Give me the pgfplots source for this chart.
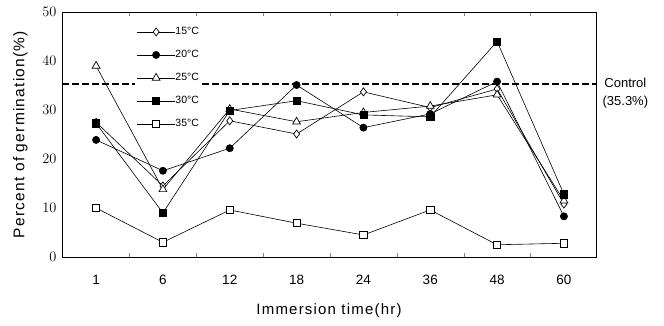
\documentclass[border=0pt]{standalone}
\usepackage{pgfplots}
\pgfplotsset{compat=1.18}
\usepackage{fontspec}
\setmainfont{Liberation Sans}
\newfontfamily\lblfont[LetterSpace=8]{Liberation Sans}
\begin{document}
\begin{tikzpicture}
\begin{axis}[
  scale only axis, width=534pt, height=245pt,
  xmin=-0.51, xmax=7.48, ymin=0, ymax=50,
  xtick={0,...,7},
  xticklabels={1,6,12,18,24,36,48,60},
  major x tick style={draw=none},
  minor xtick={0.5,1.5,...,6.5},
  minor tick length=4pt,
  tick align=inside,
  ytick={0,10,...,50},
  y tick style={draw=none},
  tick label style={font=\fontsize{13.5}{15}\selectfont},
  x tick label style={yshift=-15pt},
  y tick label style={xshift=-2pt},
  xlabel={\lblfont\fontsize{15}{17}\selectfont Immersion time(hr)},
  ylabel={\lblfont\fontsize{15.5}{17}\selectfont Percent of germination(\%)},
  xlabel style={yshift=-12pt},
  ylabel style={yshift=8pt},
  axis line style={line width=0.7pt},
  clip=false,
  legend cell align=left,
  legend style={at={(rel axis cs:0.136,0.948)}, anchor=north west, draw=none, fill=white,
    inner sep=2pt, row sep=13pt,
    nodes={inner sep=0pt, text height=8pt, text depth=2pt, font=\fontsize{10.5}{12}\selectfont}},
  /tikz/every even column/.append style={column sep=4pt},
  /tikz/every odd column/.append style={text width=32pt},
  legend image code/.code={\draw[mark repeat=2,mark phase=2] plot coordinates {(0pt,0pt)(19pt,0pt)(38pt,0pt)};},
  every axis plot/.append style={line width=0.6pt},
]
\addplot[black, dash pattern=on 7pt off 3pt, line width=1.3pt, forget plot] coordinates {(-0.51,35.3) (7.48,35.3)};
\addplot[black, mark=diamond*, mark size=4pt, mark options={fill=white, line width=0.7pt}] coordinates {
(0,27.5) (1,14.5) (2,27.8) (3,25.1) (4,33.7) (5,30.5) (6,34.3) (7,10.8)};
\addlegendentry{15\textdegree C}
\addplot[black, mark=*, mark size=3.6pt, mark options={fill=black}] coordinates {
(0,23.9) (1,17.6) (2,22.2) (3,35.1) (4,26.4) (5,29.2) (6,35.8) (7,8.3)};
\addlegendentry{20\textdegree C}
\addplot[black, mark=triangle*, mark size=4.5pt, mark options={fill=white, line width=0.7pt}] coordinates {
(0,39.0) (1,13.8) (2,30.2) (3,27.6) (4,29.5) (5,30.8) (6,33.1) (7,11.5)};
\addlegendentry{25\textdegree C}
\addplot[black, mark=square*, mark size=3.6pt, mark options={fill=black}] coordinates {
(0,27.3) (1,9.0) (2,29.9) (3,31.9) (4,29.0) (5,28.6) (6,44.0) (7,12.8)};
\addlegendentry{30\textdegree C}
\addplot[black, mark=square*, mark size=3.6pt, mark options={fill=white, line width=0.7pt}] coordinates {
(0,10.0) (1,3.0) (2,9.6) (3,6.9) (4,4.5) (5,9.6) (6,2.5) (7,2.8)};
\addlegendentry{35\textdegree C}
\node[align=center, anchor=west, font=\fontsize{13}{18}\selectfont, inner sep=0pt] at (rel axis cs:1.012,0.67) {Control\\(35.3\%)};
\end{axis}
\path (current axis.south west) ++(-62pt,-68pt) rectangle ++(664pt,325pt);
\end{tikzpicture}
\end{document}
